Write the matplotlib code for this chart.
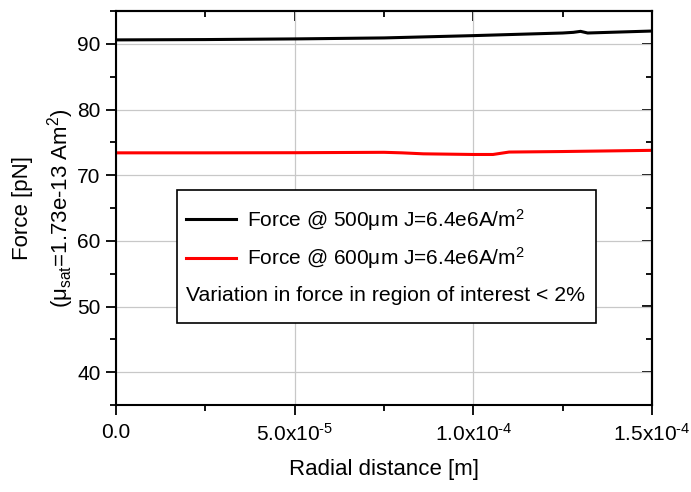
import matplotlib
matplotlib.use("Agg")
import matplotlib.pyplot as plt
from matplotlib.patches import Rectangle
from matplotlib.ticker import FuncFormatter, MultipleLocator

plt.rcParams["font.family"] = ["Liberation Sans", "DejaVu Sans"]
plt.rcParams["mathtext.fontset"] = "custom"
plt.rcParams["mathtext.rm"] = "Liberation Sans"
plt.rcParams["mathtext.it"] = "Liberation Sans:italic"
plt.rcParams["mathtext.default"] = "regular"

# data
x_500 = [0.0, 2.5e-5, 5.0e-5, 7.5e-5, 1.0e-4, 1.25e-4, 1.28e-4, 1.30e-4, 1.32e-4, 1.5e-4]
f_500 = [90.6, 90.65, 90.75, 90.9, 91.25, 91.65, 91.75, 91.9, 91.65, 91.95]

x_600 = [0.0, 2.5e-5, 5.0e-5, 7.5e-5, 8.0e-5, 8.6e-5, 1.0e-4, 1.055e-4, 1.1e-4, 1.25e-4, 1.5e-4]
f_600 = [73.4, 73.4, 73.42, 73.48, 73.4, 73.25, 73.15, 73.15, 73.52, 73.6, 73.78]

label_500 = r"Force @ 500$\mu$m J=6.4e6A/m$^2$"
label_600 = r"Force @ 600$\mu$m J=6.4e6A/m$^2$"
note = "Variation in force in region of interest < 2%"


def sci_fmt(v, pos):
    if v == 0:
        return "0.0"
    exp = int(f"{v:.1e}".split("e")[1])
    mant = v / 10 ** exp
    return rf"{mant:.1f}x10$^{{\text{{{exp}}}}}$"


fig = plt.figure(figsize=(6.91, 4.92), dpi=100)
ax = fig.add_axes([116 / 691, (492 - 405) / 492, 536 / 691, 394 / 492])

l1, = ax.plot(x_500, f_500, color="black", lw=2.2, label=label_500)
l2, = ax.plot(x_600, f_600, color="#ff0000", lw=2.2, label=label_600)

ax.set_xlim(0, 1.5e-4)
ax.set_ylim(35, 95)
ax.xaxis.set_major_locator(MultipleLocator(5e-5))
ax.xaxis.set_minor_locator(MultipleLocator(2.5e-5))
ax.yaxis.set_major_locator(MultipleLocator(10))
ax.yaxis.set_minor_locator(MultipleLocator(5))
ax.xaxis.set_major_formatter(FuncFormatter(sci_fmt))

ax.grid(True, which="major", color="#c8c8c8", lw=0.9)
ax.set_axisbelow(True)
for s in ax.spines.values():
    s.set_linewidth(1.5)

ax.tick_params(which="both", direction="out", width=1.3, labelsize=15,
               top=False, right=False)
ax.tick_params(which="major", length=7)
ax.tick_params(which="minor", length=4)
ax.tick_params(axis="x", pad=6)
ax.tick_params(axis="y", pad=4)
# inward ticks on top and right, as in the reference
sec_x = ax.secondary_xaxis("top")
sec_x.xaxis.set_major_locator(MultipleLocator(5e-5))
sec_x.xaxis.set_minor_locator(MultipleLocator(2.5e-5))
sec_x.tick_params(which="both", direction="in", width=1.3, labeltop=False)
sec_x.tick_params(which="major", length=7)
sec_x.tick_params(which="minor", length=4)
sec_y = ax.secondary_yaxis("right")
sec_y.yaxis.set_major_locator(MultipleLocator(10))
sec_y.yaxis.set_minor_locator(MultipleLocator(5))
sec_y.tick_params(which="both", direction="in", width=1.3, labelright=False)
sec_y.tick_params(which="major", length=7)
sec_y.tick_params(which="minor", length=4)
for sec in (sec_x, sec_y):
    for s in sec.spines.values():
        s.set_linewidth(1.5)

ax.set_xlabel("Radial distance [m]", fontsize=16, labelpad=10)
ax.set_ylabel("Force [pN]\n" + r"($\mu_{sat}$=1.73e-13 Am$^2$)", fontsize=16,
              labelpad=1, linespacing=1.55)

# legend box with the note line
ax.add_patch(Rectangle((0.114, 0.208), 0.782, 0.338, transform=ax.transAxes,
                       facecolor="white", edgecolor="black", lw=1.2, zorder=4))
ax.legend(handles=[l1, l2], loc="upper left", bbox_to_anchor=(0.095, 0.55),
          frameon=False, fontsize=15, handlelength=2.4, handletextpad=0.55,
          labelspacing=0.6).set_zorder(5)
ax.text(0.131, 0.279, note, transform=ax.transAxes, fontsize=15.3,
        va="center", ha="left", zorder=6)

fig.savefig("out.png", dpi=100)
